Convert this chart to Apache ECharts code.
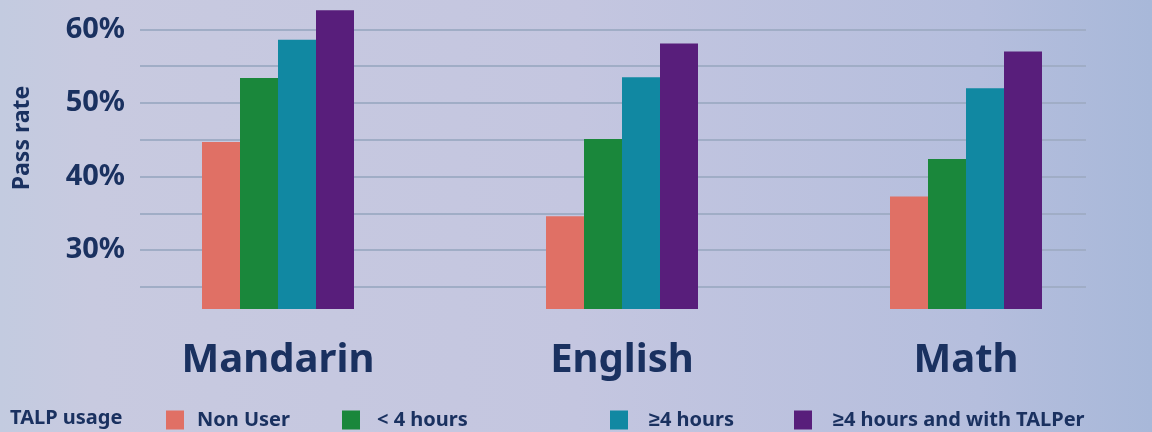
<!DOCTYPE html>
<html>
<head>
<meta charset="utf-8">
<script src="https://cdn.jsdelivr.net/npm/echarts@6/dist/echarts.min.js"></script>
<style>
    html, body { margin: 0; padding: 0; }
    #chart_pass_rate { width: 1152px; height: 432px; }
</style>
</head>
<body>
<div id="chart_pass_rate"></div>
<script>
// subjects on the x axis
var subjects = ['Mandarin', 'English', 'Math'];
// TALP usage groups, one bar series each
var groups = ['Non User', '< 4 hours', '≥4 hours', '≥4 hours and with TALPer'];
var groupColors = ['#e07065', '#1a873b', '#1188a2', '#581e7b'];
// pass rate (%) per subject
var nonUser = [44.7, 34.6, 37.3];
var under4h = [53.4, 45.1, 42.4];
var over4h = [58.6, 53.5, 52.0];
var over4hTalper = [62.6, 58.1, 57.0];
var yMin = 22, yMax = 64;

var textColor = '#1a3160';
var font = '"Noto Sans", sans-serif';

var chart = echarts.init(document.getElementById('chart_pass_rate'));

var seriesValues = [nonUser, under4h, over4h, over4hTalper];
var series = groups.map(function (name, i) {
    return {
        name: name,
        type: 'bar',
        xAxisIndex: 0,
        yAxisIndex: 0,
        data: seriesValues[i],
        barWidth: 38,
        barGap: '0%',
        itemStyle: { color: groupColors[i] }
    };
});

// one legend per item, spacing in the picture is uneven
var legendLeft = [166, 342, 610, 794];
var legendTextGap = [8, 12, 16, 16];
var legends = groups.map(function (name, i) {
    return {
        data: [name],
        left: legendLeft[i],
        top: 410,
        padding: 0,
        itemWidth: 18,
        itemHeight: 19,
        icon: 'rect',
        selectedMode: false,
        textStyle: {
            color: textColor,
            fontFamily: font,
            fontWeight: 'bold',
            fontSize: 20,
            padding: [0, 0, 0, legendTextGap[i]]
        }
    };
});

var option = {
    animation: false,
    backgroundColor: new echarts.graphic.LinearGradient(0, 0, 1, 0, [
        { offset: 0, color: '#c3cbe0' },
        { offset: 0.08, color: '#c8cae0' },
        { offset: 0.5, color: '#c4c6e0' },
        { offset: 0.85, color: '#b5bedd' },
        { offset: 1, color: '#a8b8d9' }
    ]),
    legend: legends,
    grid: [
        // bars
        { left: 106, right: 14, top: 0, bottom: 123 },
        // grid lines and y labels
        { left: 140, right: 66, top: 0, bottom: 123 }
    ],
    xAxis: [
        {
            type: 'category',
            gridIndex: 0,
            data: subjects,
            axisLine: { show: false },
            axisTick: { show: false },
            axisLabel: {
                color: textColor,
                fontFamily: font,
                fontWeight: 'bold',
                fontSize: 40,
                lineHeight: 40,
                margin: 32
            }
        },
        {
            type: 'category',
            gridIndex: 1,
            data: subjects,
            show: false
        }
    ],
    yAxis: [
        {
            type: 'value',
            gridIndex: 0,
            min: yMin,
            max: yMax,
            show: false,
            splitLine: { show: false }
        },
        {
            type: 'value',
            gridIndex: 1,
            min: yMin,
            max: yMax,
            splitNumber: 9,
            axisLine: { show: false },
            axisTick: { show: false },
            axisLabel: {
                color: textColor,
                fontFamily: font,
                fontWeight: 'bold',
                fontSize: 29,
                margin: 15,
                showMinLabel: false,
                showMaxLabel: false,
                formatter: function (v) {
                    return v % 10 === 0 ? v + '%' : '';
                }
            },
            splitLine: {
                showMinLine: false,
                showMaxLine: false,
                lineStyle: { color: '#a0adc6', width: 2 }
            },
            z: 0
        }
    ],
    graphic: [
        {
            type: 'text',
            x: 22,
            y: 138,
            rotation: Math.PI / 2,
            style: {
                text: 'Pass rate',
                fill: textColor,
                font: 'bold 23px "Noto Sans", sans-serif',
                textAlign: 'center',
                textVerticalAlign: 'middle'
            }
        },
        {
            type: 'text',
            left: 10,
            top: 408,
            style: {
                text: 'TALP usage',
                fill: textColor,
                font: 'bold 20px "Noto Sans", sans-serif'
            }
        }
    ],
    series: series
};

chart.setOption(option);
</script>
</body>
</html>
